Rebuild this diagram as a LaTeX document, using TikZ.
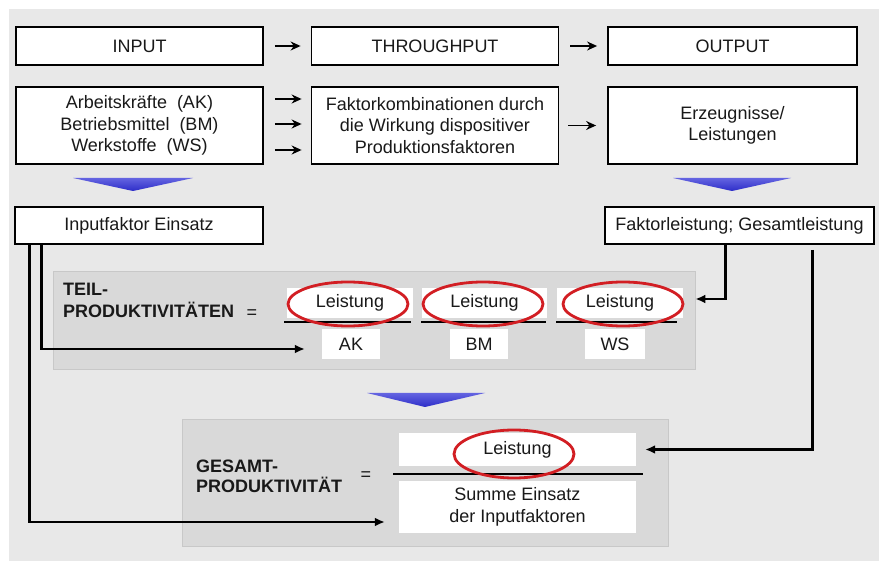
\documentclass[tikz,border=0pt]{standalone}
\usepackage{fontspec}
\setmainfont{Liberation Sans}
\usetikzlibrary{arrows.meta}
\definecolor{bg}{RGB}{232,232,232}
\definecolor{panel}{RGB}{217,217,217}
\definecolor{panelline}{RGB}{200,200,200}
\definecolor{txt}{RGB}{25,25,25}
\definecolor{ringred}{RGB}{210,30,35}
\definecolor{tridark}{RGB}{45,45,200}
\definecolor{trilight}{RGB}{100,100,225}
\newcommand\fsz{\fontsize{18}{21.5}\selectfont}
\begin{document}
\begin{tikzpicture}[x=1pt,y=-1pt,
 box/.style={draw=black,line width=1.8pt,fill=white,inner sep=0pt,align=center,font=\fsz,text=txt},
 wbox/.style={fill=white,inner sep=0pt,align=center,font=\fsz,text=txt},
 panelbox/.style={fill=panel,draw=panelline,line width=0.8pt,inner sep=0pt},
 lbl/.style={inner sep=0pt,font=\fsz\bfseries,text=txt,anchor=base west},
 eqs/.style={inner sep=0pt,font=\fsz,text=txt},
 thinarr/.style={line width=1.4pt,-{Stealth[length=10pt,width=9pt]}},
 conn/.style={line width=2.8pt,-{Latex[length=10pt,width=9pt]}},
 ring/.style={draw=ringred,line width=2.8pt},
 frac/.style={line width=2pt},
 tri/.style={top color=trilight,bottom color=tridark,draw=none}
]
\useasboundingbox (0,0) rectangle (879,561);
\fill[white] (0,0) rectangle (879,561);
\fill[bg] (9,9) rectangle (879,561);

% row 1
\node[box,minimum width=247pt,minimum height=38pt] (in1) at (139.5,46) {INPUT};
\node[box,minimum width=247pt,minimum height=38pt] (th1) at (435,46) {THROUGHPUT};
\node[box,minimum width=249pt,minimum height=38pt] (out1) at (732.5,46) {OUTPUT};
\draw[thinarr,shorten <=11pt,shorten >=10pt] (in1) -- (th1);
\draw[thinarr,shorten <=11pt,shorten >=10pt] (th1) -- (out1);

% row 2
\node[box,minimum width=247pt,minimum height=77pt] (in2) at (139.5,125.5)
  {Arbeitskräfte~~(AK)\\Betriebsmittel~~(BM)\\Werkstoffe~~(WS)};
\node[box,minimum width=247pt,minimum height=77pt] (th2) at (435,125.5)
  {Faktorkombinationen durch\\die Wirkung dispositiver\\Produktionsfaktoren};
\node[box,minimum width=249pt,minimum height=77pt] (out2) at (732.5,125.5)
  {Erzeugnisse/\\Leistungen};
\draw[thinarr,shorten <=11pt,shorten >=9pt] ([yshift=26.5pt]in2.east) -- ([yshift=26.5pt]th2.west);
\draw[thinarr,shorten <=11pt,shorten >=9pt] ([yshift=1.5pt]in2.east) -- ([yshift=1.5pt]th2.west);
\draw[thinarr,shorten <=11pt,shorten >=9pt] ([yshift=-24.5pt]in2.east) -- ([yshift=-24.5pt]th2.west);
\draw[thinarr,shorten <=9pt,shorten >=11pt] (th2) -- (out2);

% blue triangles
\shade[tri] (73,178) -- (193,178) -- (133,191) -- cycle;
\shade[tri] (673,178) -- (791,178) -- (732,191) -- cycle;

% row 3
\node[box,minimum width=248pt,minimum height=37pt] (ife) at (139,225.5) {Inputfaktor Einsatz};
\node[box,minimum width=269pt,minimum height=37pt] (fle) at (739.5,225.5) {Faktorleistung; Gesamtleistung};

% Teilproduktivitaeten panel
\node[panelbox,minimum width=642pt,minimum height=98pt] (teil) at (374,320) {};
\node[lbl] (teilA) at (63,296) {TEIL-};
\node[lbl] (teilB) at (63,318) {PRODUKTIVITÄTEN};
\node[eqs] (teilEq) at (252,314) {=};
\node[wbox,minimum width=126pt,minimum height=30pt] (l1) at (350,303) {Leistung};
\node[wbox,minimum width=125pt,minimum height=30pt] (l2) at (484.5,303) {Leistung};
\node[wbox,minimum width=126pt,minimum height=30pt] (l3) at (620,303) {Leistung};
\node[wbox,minimum width=58pt,minimum height=30pt] (ak) at (351,344) {AK};
\node[wbox,minimum width=58pt,minimum height=30pt] (bm) at (479,344) {BM};
\node[wbox,minimum width=60pt,minimum height=30pt] (ws) at (615,344) {WS};
\draw[frac] (284,322) -- (411,322);
\draw[frac] (421,322) -- (546,322);
\draw[frac] (556,322) -- (677,322);
\draw[ring] (348,304) ellipse [x radius=60pt, y radius=22pt];
\draw[ring] (483,304) ellipse [x radius=60pt, y radius=22pt];
\draw[ring] (623,304) ellipse [x radius=60pt, y radius=22pt];

% triangle
\shade[tri] (367,393) -- (485,393) -- (425,407) -- cycle;

% Gesamtproduktivitaet panel
\node[panelbox,minimum width=486pt,minimum height=127pt] (ges) at (425,482.5) {};
\node[lbl] (gesA) at (196,472) {GESAMT-};
\node[lbl] (gesB) at (196,493) {PRODUKTIVITÄT};
\node[eqs] (gesEq) at (366,476) {=};
\node[wbox,minimum width=237pt,minimum height=33pt] (gnum) at (517.5,449.5) {Leistung};
\node[wbox,minimum width=237pt,minimum height=52pt] (gden) at (517.5,507) {Summe Einsatz\\der Inputfaktoren};
\draw[frac] (393,474) -- (643,474);
\draw[ring] (514,454) ellipse [x radius=60pt, y radius=24pt];

% connectors
\draw[conn] ([xshift=27pt]ife.south west) |- ([xshift=-17pt,yshift=-5pt]ak.west);
\draw[conn] ([xshift=15pt]ife.south west) |- ([xshift=-14pt,yshift=-15pt]gden.west);
\draw[conn] ([xshift=121pt]fle.south west) |- ([yshift=21pt]teil.east);
\draw[conn,shorten <=5pt] ([xshift=208pt]fle.south west) |- ([xshift=9pt]gnum.east);
\end{tikzpicture}
\end{document}
